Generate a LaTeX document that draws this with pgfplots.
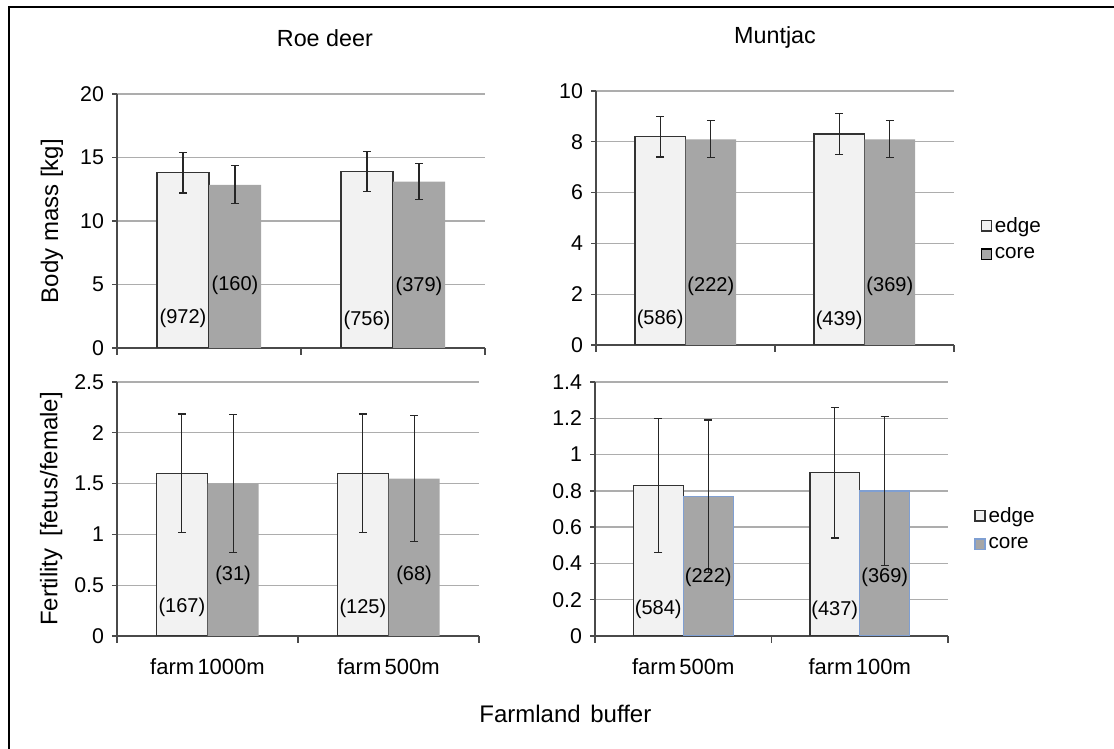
\documentclass[border=0pt]{standalone}
\usepackage{fontspec}
\setmainfont{Liberation Sans}
\usepackage{pgfplots}
\pgfplotsset{compat=1.18}

\definecolor{edgefill}{HTML}{F2F2F2}
\definecolor{corefill}{HTML}{A6A6A6}
\definecolor{barline}{HTML}{333333}
\definecolor{gridc}{HTML}{ADADAD}
\definecolor{axisc}{HTML}{4A4A4A}
\definecolor{coreblue}{HTML}{7F9FD2}
\definecolor{errc}{HTML}{262626}

% bars sit at -0.1415 / +0.1415 around each category centre (0 and 1)
\pgfplotsset{
  panel/.style={
    scale only axis,
    height=190.5pt,
    xmin=-0.5, xmax=1.5,
    axis lines*=left,
    axis line style={axisc, line width=1pt},
    ymajorgrids,
    major grid style={gridc, line width=1pt},
    tick align=outside,
    xtick={0,1},
    major x tick style={draw=none},
    minor xtick={-0.5,0.5,1.5},
    minor x tick style={axisc, line width=1pt},
    minor tick length=5.25pt,
    ytick style={axisc, line width=1pt},
    major tick length=3.75pt,
    yticklabel style={font=\fontsize{16}{19}\selectfont, xshift=-2.5pt},
    xticklabel style={font=\fontsize{16.5}{19}\selectfont, yshift=-10pt},
    /pgf/number format/assume math mode=true,
    ylabel style={font=\fontsize{18}{21}\selectfont},
    title style={font=\fontsize{17.5}{21}\selectfont, anchor=center},
    legend style={draw=none, fill=none, anchor=west, inner sep=0pt,
      row sep=6pt, font=\fontsize{15.5}{18}\selectfont,
      nodes={inner sep=2pt}},
    legend cell align=left,
  },
  errs/.style={error bars/.cd, y dir=both, y explicit,
    error bar style={errc, line width=0.9pt},
    error mark options={errc, line width=0.9pt, mark size=3pt, rotate=90}},
  sq/.style={legend image code/.code={\draw[##1] (-3pt,-4pt) rectangle (4.5pt,4pt);}},
  edgebar/.style={ybar, bar width=0.283, bar shift=0pt,
    fill=edgefill, draw=barline, line width=1.1pt, sq, errs},
  corebar/.style={ybar, bar width=0.283, bar shift=0pt,
    fill=corefill, draw=none, line width=1pt, sq, errs},
  corebarb/.style={ybar, bar width=0.283, bar shift=0pt,
    fill=corefill, draw=coreblue, line width=1pt, sq, errs},
  nlabel/.style={draw=none, mark=none, nodes near coords,
    point meta=explicit symbolic,
    every node near coord/.append style={anchor=center, inner sep=0pt,
      font=\fontsize{15}{18}\selectfont}},
}

\begin{document}
\begin{tikzpicture}
\useasboundingbox (0,0) rectangle (835.5pt,561.75pt);
% frame
\draw[line width=1.9pt, black] (6.75pt,0pt) -- (6.75pt,556.5pt) -- (835.5pt,556.5pt);

% ---------------- Roe deer: body mass ----------------
\begin{axis}[panel,
  at={(87.75pt,300.75pt)}, anchor=south west, width=276pt,
  ymin=0, ymax=20, ytick={0,5,10,15,20}, yticklabels={0,5,10,15,20},
  xticklabels={},
  ylabel={Body mass [kg]},
  ylabel style={at={(axis description cs:-0.177,0.5)}, anchor=center},
  title={Roe deer},
  title style={at={(axis description cs:0.565,1.19)}},
]
\addplot[edgebar] coordinates {(-0.1415,13.8) +- (0,1.6) (0.8585,13.9) +- (0,1.6)};
\addplot[corebar] coordinates {(0.1415,12.85) +- (0,1.5) (1.1415,13.1) +- (0,1.4)};
\addplot[nlabel] coordinates {(-0.1415,2.3) [(972)] (0.8585,2.2) [(756)]
  (0.1415,4.9) [(160)] (1.1415,4.85) [(379)]};
\end{axis}

% ---------------- Muntjac: body mass ----------------
\begin{axis}[panel,
  at={(447pt,303pt)}, anchor=south west, width=268.5pt,
  ymin=0, ymax=10, ytick={0,2,4,6,8,10}, yticklabels={0,2,4,6,8,10},
  xticklabels={},
  title={Muntjac},
  title style={at={(axis description cs:0.5,1.178)}},
  legend style={at={(axis description cs:1.074,0.417)}},
]
\addplot[edgebar] coordinates {(-0.1415,8.2) +- (0,0.8) (0.8585,8.3) +- (0,0.8)};
\addplot[corebar] coordinates {(0.1415,8.1) +- (0,0.73) (1.1415,8.1) +- (0,0.73)};
\addplot[nlabel] coordinates {(-0.1415,1.0) [(586)] (0.8585,0.97) [(439)]
  (0.1415,2.3) [(222)] (1.1415,2.3) [(369)]};
\legend{edge,core}
\end{axis}

% ---------------- Roe deer: fertility ----------------
\begin{axis}[panel,
  at={(87.75pt,84.75pt)}, anchor=south west, width=271.5pt,
  ymin=0, ymax=2.5, ytick={0,0.5,1,1.5,2,2.5}, yticklabels={0,0.5,1,1.5,2,2.5},
  xticklabels={farm\hspace{0.15em}1000m, farm\hspace{0.15em}500m},
  ylabel={Fertility\hspace{0.5em}[fetus/female]},
  ylabel style={at={(axis description cs:-0.182,0.5)}, anchor=center},
]
\addplot[edgebar] coordinates {(-0.1415,1.6) +- (0,0.585) (0.8585,1.6) +- (0,0.585)};
\addplot[corebar] coordinates {(0.1415,1.5) +- (0,0.68) (1.1415,1.55) +- (0,0.62)};
\addplot[nlabel] coordinates {(-0.1415,0.28) [(167)] (0.8585,0.27) [(125)]
  (0.1415,0.6) [(31)] (1.1415,0.6) [(68)]};
\end{axis}

% ---------------- Muntjac: fertility ----------------
\begin{axis}[panel,
  at={(446.25pt,84.75pt)}, anchor=south west, width=264.75pt,
  ymin=0, ymax=1.4, ytick={0,0.2,0.4,0.6,0.8,1,1.2,1.4},
  yticklabels={0,0.2,0.4,0.6,0.8,1,1.2,1.4},
  xticklabels={farm\hspace{0.15em}500m, farm\hspace{0.15em}100m},
  legend style={at={(axis description cs:1.074,0.421)}},
]
\addplot[edgebar] coordinates {(-0.1415,0.83) +- (0,0.37) (0.8585,0.9) +- (0,0.36)};
\addplot[corebarb] coordinates {(0.1415,0.77) +- (0,0.42) (1.1415,0.8) +- (0,0.41)};
\addplot[nlabel] coordinates {(-0.1415,0.146) [(584)] (0.8585,0.14) [(437)]
  (0.1415,0.325) [(222)] (1.1415,0.325) [(369)]};
\legend{edge,core}
\end{axis}

\node[font=\fontsize{18}{21}\selectfont] at (424pt,26pt) {Farmland\hspace{0.4em}buffer};
\end{tikzpicture}
\end{document}
